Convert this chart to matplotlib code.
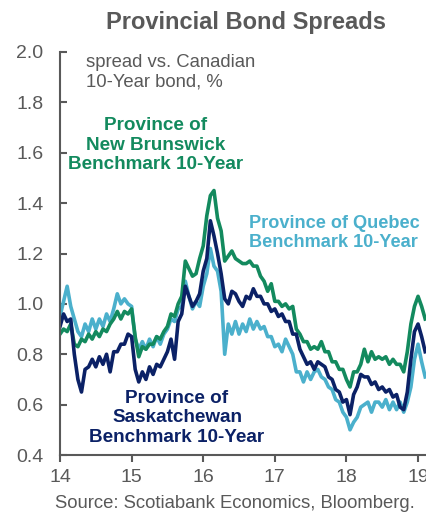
import numpy as np
import matplotlib
matplotlib.use("Agg")
import matplotlib.pyplot as plt

plt.rcParams['font.family'] = ['Liberation Sans', 'DejaVu Sans']

# time grid (fractional years, '14' = 2014)
dates = np.arange(14.0, 19.125, 0.05)

quebec = [0.95, 1.01, 1.07, 0.99, 0.94, 0.89, 0.87, 0.92, 0.89, 0.94,
          0.90, 0.94, 0.91, 0.96, 0.93, 0.98, 1.04, 1.00, 1.02, 1.00,
          0.99, 0.86, 0.82, 0.85, 0.82, 0.86, 0.83, 0.87, 0.84, 0.88,
          0.90, 0.94, 0.93, 0.98, 0.99, 1.09, 1.03, 0.98, 1.01, 0.99,
          1.07, 1.12, 1.22, 1.15, 1.13, 1.05, 0.80, 0.92, 0.88, 0.93,
          0.88, 0.92, 0.89, 0.94, 0.90, 0.93, 0.90, 0.91, 0.87, 0.87,
          0.83, 0.84, 0.81, 0.86, 0.83, 0.80, 0.73, 0.73, 0.69, 0.73,
          0.70, 0.73, 0.74, 0.71, 0.70, 0.67, 0.66, 0.62, 0.61, 0.57,
          0.55, 0.50, 0.53, 0.55, 0.59, 0.60, 0.61, 0.57, 0.61, 0.61,
          0.59, 0.62, 0.58, 0.61, 0.58, 0.61, 0.57, 0.61, 0.67, 0.78,
          0.84, 0.77, 0.71]

saskatchewan = [0.91, 0.96, 0.93, 0.94, 0.80, 0.70, 0.65, 0.74, 0.75, 0.78,
                0.75, 0.79, 0.76, 0.80, 0.73, 0.81, 0.81, 0.84, 0.84, 0.88,
                0.87, 0.74, 0.69, 0.73, 0.70, 0.75, 0.72, 0.76, 0.75, 0.78,
                0.81, 0.86, 0.78, 0.93, 0.96, 1.07, 1.03, 0.99, 1.01, 1.04,
                1.13, 1.18, 1.33, 1.27, 1.20, 1.12, 1.02, 1.00, 1.05, 1.04,
                1.01, 0.99, 1.03, 1.02, 1.06, 1.03, 1.03, 1.00, 1.00, 0.97,
                0.98, 0.95, 0.96, 0.93, 0.93, 0.88, 0.88, 0.82, 0.79, 0.76,
                0.77, 0.74, 0.77, 0.76, 0.75, 0.71, 0.70, 0.66, 0.65, 0.61,
                0.62, 0.56, 0.64, 0.67, 0.72, 0.71, 0.71, 0.68, 0.69, 0.66,
                0.67, 0.65, 0.66, 0.63, 0.64, 0.59, 0.58, 0.65, 0.78, 0.89,
                0.92, 0.87, 0.81]

new_brunswick = [0.88, 0.90, 0.89, 0.92, 0.84, 0.83, 0.86, 0.85, 0.88, 0.86,
                 0.89, 0.87, 0.90, 0.89, 0.92, 0.94, 0.97, 0.94, 0.97, 0.96,
                 0.98, 0.87, 0.79, 0.83, 0.82, 0.84, 0.84, 0.87, 0.86, 0.89,
                 0.91, 0.96, 0.95, 1.00, 1.03, 1.17, 1.14, 1.11, 1.12, 1.18,
                 1.23, 1.35, 1.43, 1.45, 1.34, 1.29, 1.17, 1.19, 1.21, 1.18,
                 1.17, 1.16, 1.16, 1.17, 1.15, 1.15, 1.11, 1.09, 1.05, 1.08,
                 1.01, 1.01, 0.99, 1.00, 0.98, 0.99, 0.90, 0.88, 0.85, 0.85,
                 0.82, 0.83, 0.82, 0.85, 0.81, 0.81, 0.77, 0.77, 0.74, 0.74,
                 0.70, 0.67, 0.73, 0.73, 0.76, 0.82, 0.77, 0.81, 0.78, 0.79,
                 0.78, 0.79, 0.76, 0.78, 0.76, 0.76, 0.73, 0.81, 0.92, 0.99,
                 1.03, 0.99, 0.94]

x_ticks = [14, 15, 16, 17, 18, 19]
x_labels = ['14', '15', '16', '17', '18', '19']
y_ticks = [0.4, 0.6, 0.8, 1.0, 1.2, 1.4, 1.6, 1.8, 2.0]

GREEN = '#138A5E'
NAVY = '#0B2166'
LBLUE = '#4BB0CC'
GRAY = '#595959'

fig = plt.figure(figsize=(4.27, 5.12), dpi=100)
ax = fig.add_axes([60 / 427, 1 - 455 / 512, 1 - 60 / 427, (455 - 52) / 512])

ax.plot(dates, quebec, color=LBLUE, lw=2.6, solid_joinstyle='round')
ax.plot(dates, new_brunswick, color=GREEN, lw=2.6, solid_joinstyle='round')
ax.plot(dates, saskatchewan, color=NAVY, lw=2.6, solid_joinstyle='round')

ax.set_xlim(14.0, 19.125)
ax.set_ylim(0.4, 2.0)
ax.set_xticks(x_ticks)
ax.set_xticklabels(x_labels)
ax.set_yticks(y_ticks)
ax.set_yticklabels([f'{v:.1f}' for v in y_ticks])

for s in ['top', 'right']:
    ax.spines[s].set_visible(False)
for s in ['left', 'bottom']:
    ax.spines[s].set_color(GRAY)
    ax.spines[s].set_linewidth(1.5)

ax.tick_params(axis='y', direction='in', length=5, width=1.5, color=GRAY,
               labelcolor=GRAY, labelsize=14, pad=12)
ax.tick_params(axis='x', direction='out', length=5, width=1.5, color=GRAY,
               labelcolor=GRAY, labelsize=14, pad=5)

fig.text(246 / 427, 1 - 22 / 512, 'Provincial Bond Spreads', ha='center', va='center',
         fontsize=17, fontweight='bold', color=GRAY)

fig.text(86 / 427, 1 - 54 / 512, 'spread vs. Canadian\n10-Year bond, %',
         ha='left', va='top', fontsize=13.3, color=GRAY, linespacing=1.2)

fig.text(156 / 427, 1 - 145 / 512, 'Province of\nNew Brunswick\nBenchmark 10-Year',
         ha='center', va='center', fontsize=13.6, fontweight='bold', color=GREEN,
         linespacing=1.18)
fig.text(249 / 427, 1 - 233 / 512, 'Province of Quebec\nBenchmark 10-Year',
         ha='left', va='center', fontsize=13.1, fontweight='bold', color=LBLUE,
         linespacing=1.18)
fig.text(177 / 427, 1 - 418 / 512, 'Province of\nSaskatchewan\nBenchmark 10-Year',
         ha='center', va='center', fontsize=13.6, fontweight='bold', color=NAVY,
         linespacing=1.18)

fig.text(55 / 427, 1 - 503 / 512, 'Source: Scotiabank Economics, Bloomberg.',
         ha='left', va='center', fontsize=13.3, color=GRAY)

fig.savefig('out.png', dpi=100)
